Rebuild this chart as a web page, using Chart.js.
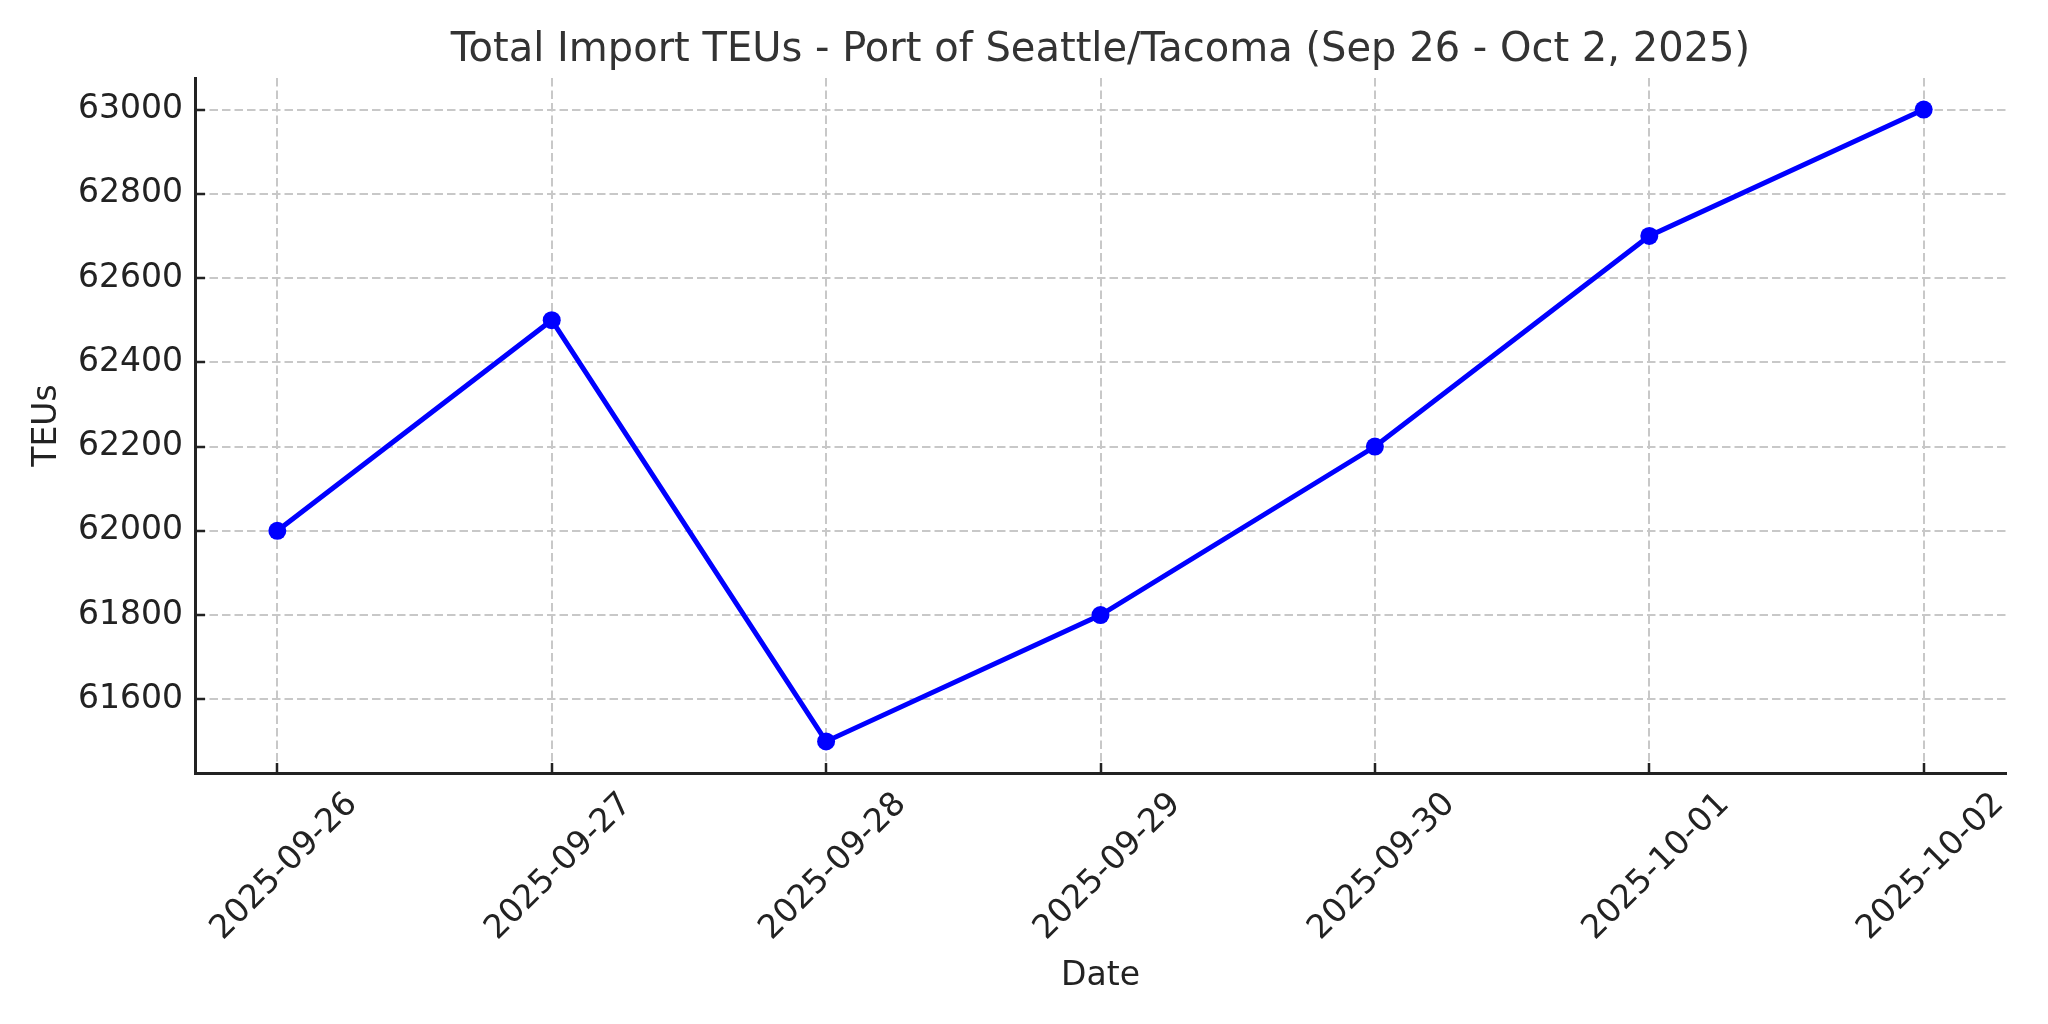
<!DOCTYPE html>
<html>
<head>
<meta charset="utf-8">
<script src="https://cdn.jsdelivr.net/npm/chart.js@4"></script>
<style>
  body { margin: 0; background: #fff; }
  canvas { display: block; }
</style>
</head>
<body>
<canvas id="teuChart" width="2048" height="1024"></canvas>
<script>
const dates = ['2025-09-26', '2025-09-27', '2025-09-28', '2025-09-29', '2025-09-30', '2025-10-01', '2025-10-02'];
const teus = [62000, 62500, 61500, 61800, 62200, 62700, 63000];
const yTicks = [61600, 61800, 62000, 62200, 62400, 62600, 62800, 63000];

const ctx = document.getElementById('teuChart').getContext('2d');
Chart.defaults.font.family = 'DejaVu Sans';
Chart.defaults.color = '#222';

const gridStyle = {
    color: '#c8c8c8',
    lineWidth: 2,
    tickColor: '#222',
    tickWidth: 2.5,
    tickBorderDash: [],
    tickLength: -10
};
const borderStyle = { display: true, color: '#222', width: 3, dash: [8.5, 4] };

new Chart(ctx, {
    type: 'line',
    data: {
        datasets: [{
            label: 'Total Import TEUs',
            data: teus.map((v, i) => ({ x: i, y: v })),
            borderColor: '#0000ff',
            backgroundColor: '#0000ff',
            borderWidth: 5,
            pointRadius: 9,
            pointHoverRadius: 9,
            pointBorderWidth: 0,
            tension: 0,
            fill: false
        }]
    },
    options: {
        responsive: false,
        animation: false,
        devicePixelRatio: 1,
        layout: { padding: { left: 0, right: 42, top: 0, bottom: 0 } },
        plugins: {
            legend: { display: false },
            tooltip: { enabled: false },
            title: {
                display: true,
                text: 'Total Import TEUs - Port of Seattle/Tacoma (Sep 26 - Oct 2, 2025)',
                color: '#333',
                fullSize: false,
                font: { size: 40, weight: 'normal' },
                padding: { top: 27, bottom: 3 }
            }
        },
        scales: {
            x: {
                type: 'linear',
                min: -0.3,
                max: 6.3,
                afterBuildTicks: s => { s.ticks = dates.map((d, i) => ({ value: i })); },
                afterFit: s => { s.height = 251; },
                ticks: {
                    callback: v => dates[v],
                    minRotation: 45,
                    maxRotation: 45,
                    labelOffset: 75,
                    padding: 22,
                    font: { size: 33 },
                    color: '#222'
                },
                grid: gridStyle,
                border: borderStyle,
                title: {
                    display: true,
                    text: 'Date',
                    font: { size: 33 },
                    color: '#222',
                    padding: { top: 0, bottom: 28 }
                }
            },
            y: {
                min: 61425,
                max: 63075,
                afterBuildTicks: s => { s.ticks = yTicks.map(v => ({ value: v })); },
                afterFit: s => { s.width = 195; },
                ticks: {
                    callback: v => String(v),
                    padding: 22,
                    font: { size: 33 },
                    color: '#222'
                },
                grid: gridStyle,
                border: borderStyle,
                title: {
                    display: true,
                    text: 'TEUs',
                    font: { size: 33 },
                    color: '#222',
                    padding: { top: 28, bottom: 0 }
                }
            }
        }
    }
});
</script>
</body>
</html>
